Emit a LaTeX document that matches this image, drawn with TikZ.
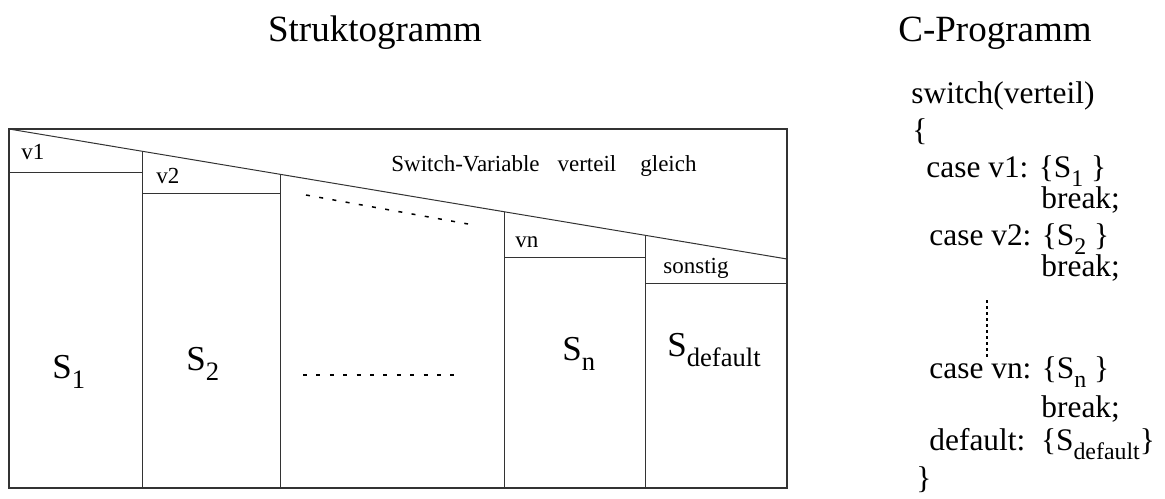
\documentclass[tikz,border=0pt]{standalone}
\usepackage{fontspec}
\setmainfont{Liberation Serif}
\usetikzlibrary{positioning}
\tikzset{>=latex}
% tiefgestellter Index, etwas groesser und tiefer als \textsubscript
\newcommand{\idx}[1]{\raisebox{-0.3em}{\scalebox{0.76}{#1}}}
\tikzset{
  titel/.style={font=\fontsize{18.5}{22}\selectfont, anchor=base, inner sep=0pt},
  fall/.style={font=\fontsize{11.5}{14}\selectfont, anchor=base west, inner sep=0pt},
  anw/.style={font=\fontsize{17.5}{21}\selectfont, anchor=base west, inner sep=0pt},
  code/.style={font=\fontsize{15.7}{19}\selectfont, anchor=base west, inner sep=0pt},
  rahmen/.style={draw=black!80, line width=0.9pt},
  linie/.style={draw=black!80, line width=0.5pt},
  punkte/.style={draw=black, line width=0.75pt, dash pattern=on 2pt off 4.7pt},
}

\begin{document}
\begin{tikzpicture}[x=0.5pt,y=-0.5pt]
  \useasboundingbox (0,0) rectangle (1165,498);
  % Ueberschriften
  \node[titel] (struk) at (375,41) {Struktogramm};
  \node[titel] (cprog) at (995,41) {C-Programm};

  % Rahmen mit Diagonale
  \coordinate (lo) at (9,129);
  \coordinate (ru) at (787,488);
  \coordinate (dr) at (787,259);
  \draw[rahmen] (lo) rectangle (ru);
  \draw[linie] (lo) -- (dr);
  % Spalten: von der Diagonale bis unten
  \foreach \x/\y in {142/151.2, 280/174.3, 504/211.7, 645/235.3}
    \draw[linie] (\x,\y) -- (\x,488);
  % Fallzeilen
  \draw[linie] (9,172) -- (142,172);
  \draw[linie] (142,193) -- (280,193);
  \draw[linie] (504,257) -- (645,257);
  \draw[linie] (645,283) -- (787,283);

  \node[fall] (v1) at (21,159) {v1};
  \node[fall] (v2) at (156,183) {v2};
  \node[fall] (vn) at (515,247) {vn};
  \node[fall] (sonst) at (663,273) {sonstig};
  \node[fall] (sw) at (391,171) {Switch-Variable\hspace{9pt}verteil\hspace{12pt}gleich};
  \draw[punkte] (306,195) -- (468,224);

  % Anweisungen
  \node[anw] (s1) at (52,378) {S\idx{1}};
  \node[anw] (s2) at (186,370) {S\idx{2}};
  \node[anw] (sn) at (562,360) {S\idx{n}};
  \node[anw] (sd) at (667,356) {S\idx{default}};
  \draw[punkte] (303,375) -- (458,375);

  % C-Programm
  \node[code] (c1) at (911,103) {switch(verteil)};
  \node[code] (c2) at (912,140) {\{};
  \node[code] (c3) at (926,177) {case v1: \{S\idx{1} \}};
  \node[code] (b1) at (1041,208) {break;};
  \node[code] (c4) at (929,245) {case v2: \{S\idx{2} \}};
  \node[code] (b2) at (1041,276) {break;};
  \draw[line width=0.6pt, dash pattern=on 1.5pt off 1.5pt] (987,300) -- (987,360);
  \node[code] (c5) at (929,378) {case vn: \{S\idx{n} \}};
  \node[code] (b3) at (1041,417) {break;};
  \node[code] (c6) at (929,450) {default:\ \ \{S\idx{default}\}};
  \node[code] (c7) at (916,488) {\}};
\end{tikzpicture}
\end{document}
